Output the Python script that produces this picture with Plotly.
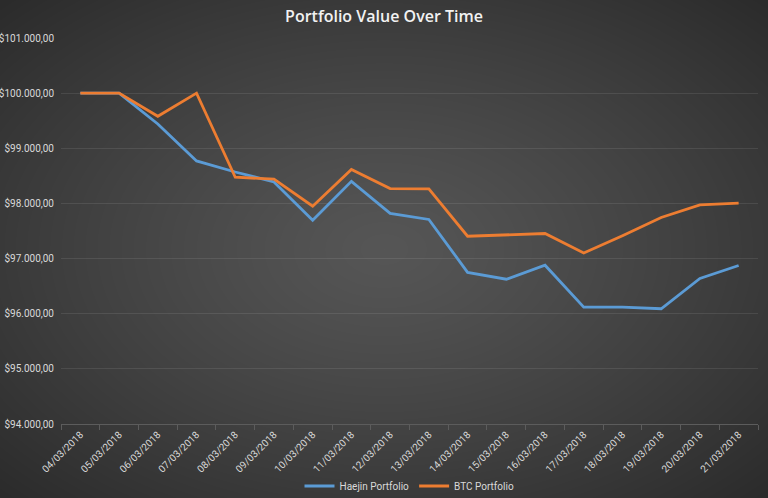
import base64, struct, zlib
import numpy as np
import plotly.graph_objects as go

dates = ["04/03/2018", "05/03/2018", "06/03/2018", "07/03/2018", "08/03/2018",
         "09/03/2018", "10/03/2018", "11/03/2018", "12/03/2018", "13/03/2018",
         "14/03/2018", "15/03/2018", "16/03/2018", "17/03/2018", "18/03/2018",
         "19/03/2018", "20/03/2018", "21/03/2018"]
haejin = [100000, 100000, 99440, 98770, 98570, 98390, 97695, 98400, 97820, 97710,
          96750, 96625, 96880, 96120, 96120, 96090, 96640, 96875]
btc = [100000, 100000, 99580, 100000, 98475, 98440, 97950, 98615, 98270, 98265,
       97405, 97425, 97455, 97100, 97415, 97745, 97975, 98005]
y_ticks = [94000, 95000, 96000, 97000, 98000, 99000, 100000, 101000]
y_labels = ["$94.000,00", "$95.000,00", "$96.000,00", "$97.000,00",
            "$98.000,00", "$99.000,00", "$100.000,00", "$101.000,00"]

W, H = 768, 498
ML, MR, MT, MB = 61, 10, 38, 74


def make_png(arr):
    h, w = arr.shape[:2]
    raw = b"".join(b"\x00" + arr[r].tobytes() for r in range(h))

    def chunk(t, d):
        return struct.pack(">I", len(d)) + t + d + struct.pack(">I", zlib.crc32(t + d) & 0xffffffff)
    return (b"\x89PNG\r\n\x1a\n" + chunk(b"IHDR", struct.pack(">IIBBBBB", w, h, 8, 2, 0, 0, 0))
            + chunk(b"IDAT", zlib.compress(raw, 9)) + chunk(b"IEND", b""))


yy, xx = np.mgrid[0:H, 0:W]
d = np.sqrt(((xx - W / 2) / (W / 2)) ** 2 + ((yy - H / 2) / (H / 2)) ** 2) / np.sqrt(2)
v = 86 - 43 * np.clip(d, 0, 1) ** 1.2
img = np.repeat(v[:, :, None], 3, axis=2).astype(np.uint8)
uri = "data:image/png;base64," + base64.b64encode(make_png(img)).decode()

pw, ph = W - ML - MR, H - MT - MB

fig = go.Figure()
fig.add_trace(go.Scatter(x=dates, y=haejin, mode="lines", name="Haejin Portfolio",
                         line=dict(color="#5B9BD5", width=2.8)))
fig.add_trace(go.Scatter(x=dates, y=btc, mode="lines", name="BTC Portfolio",
                         line=dict(color="#ED7D31", width=2.8)))

fig.add_layout_image(dict(source=uri, xref="paper", yref="paper",
                          x=-ML / pw, y=1 + MT / ph, sizex=W / pw, sizey=H / ph,
                          xanchor="left", yanchor="top", sizing="stretch", layer="below"))

fig.update_layout(
    width=W, height=H,
    margin=dict(l=ML, r=MR, t=MT, b=MB, autoexpand=False),
    paper_bgcolor="#404040", plot_bgcolor="rgba(0,0,0,0)",
    font=dict(family="Roboto, Noto Sans, sans-serif", color="#d9d9d9", size=10),
    title=dict(text="Portfolio Value Over Time", x=0.5, xanchor="center", y=1 - 16 / H,
               yanchor="middle",
               font=dict(size=16, color="#f2f2f2", family="Open Sans, sans-serif", weight=600)),
    showlegend=True,
    legend=dict(orientation="h", x=0.5, xanchor="center", y=-62 / ph, yanchor="middle",
                font=dict(size=10, color="#d9d9d9"), bgcolor="rgba(0,0,0,0)",
                itemwidth=30, tracegroupgap=0),
    xaxis=dict(type="category", range=[-0.5, len(dates) - 0.5], tickangle=-45,
               showgrid=False, showline=True, linecolor="#5c5c5c", linewidth=1,
               ticks="outside", tickson="boundaries", ticklen=5, tickcolor="#5c5c5c",
               tickfont=dict(size=10, color="#d9d9d9"), zeroline=False, automargin=False),
    yaxis=dict(range=[94000, 101000], tickvals=y_ticks, ticktext=y_labels,
               showgrid=True, gridcolor="rgba(255,255,255,0.09)", gridwidth=1, zeroline=False,
               showline=False, ticks="", ticklabelstandoff=6,
               tickfont=dict(size=10, color="#d9d9d9"), automargin=False),
)

fig.write_html("out.html", config={"displayModeBar": False},
               post_script="document.body.style.margin='0';document.body.style.overflow='hidden';")
